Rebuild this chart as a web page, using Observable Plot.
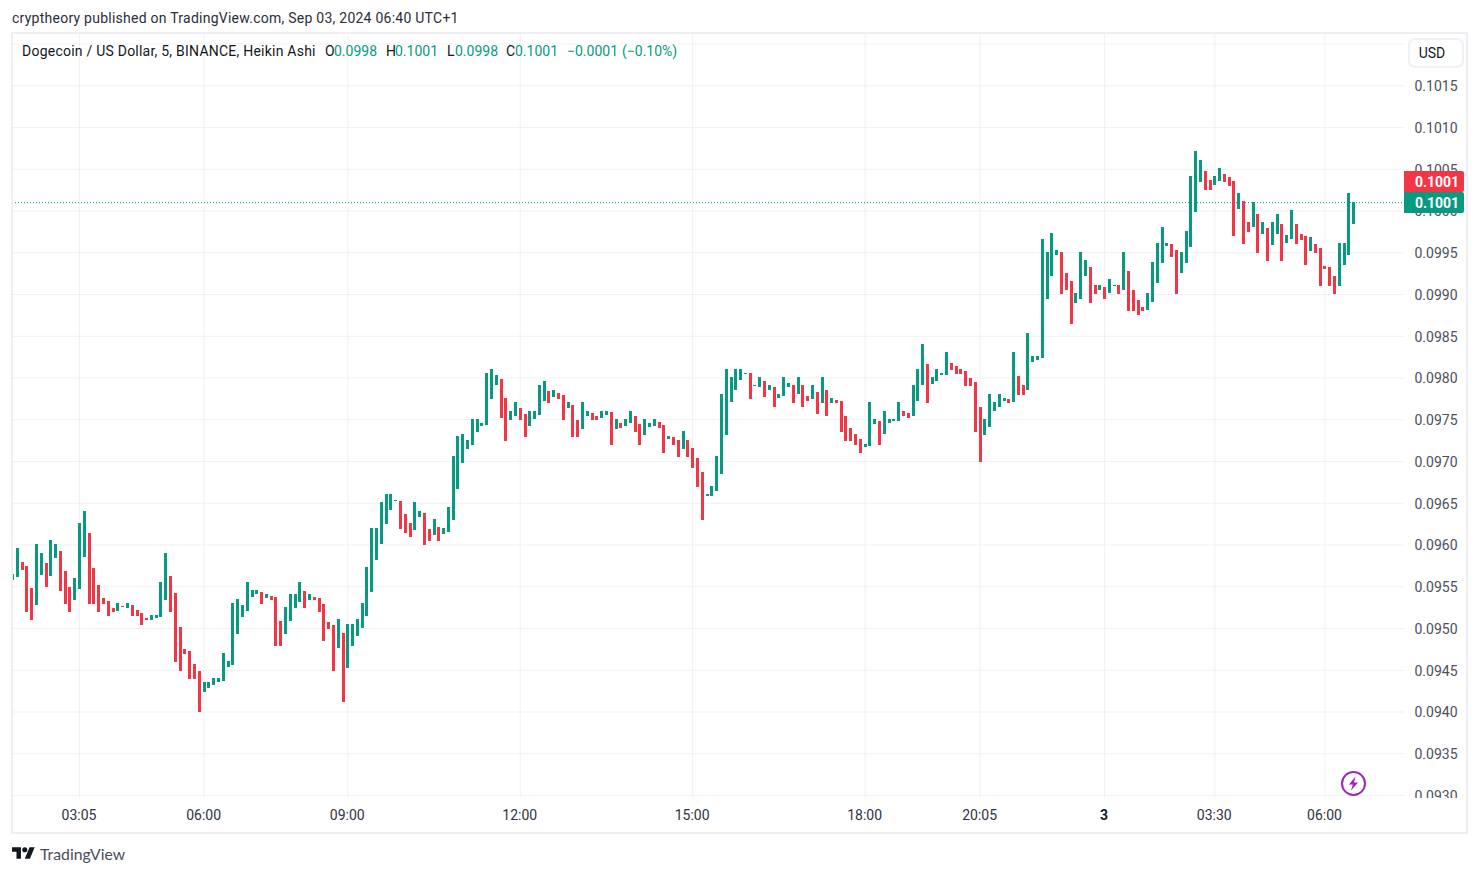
<!DOCTYPE html>
<html>
<head>
<meta charset="utf-8">
<title>Dogecoin / US Dollar</title>
<script src="https://cdn.jsdelivr.net/npm/d3@7"></script>
<script src="https://cdn.jsdelivr.net/npm/@observablehq/plot@0.6"></script>
<style>
html,body{margin:0;padding:0;background:#fff;width:1479px;height:875px;overflow:hidden;font-family:Roboto,sans-serif;font-size:14px;color:#131722}
#chart{position:absolute;left:0;top:0}
.abs{position:absolute;white-space:pre;line-height:20px}
#frame{position:absolute;left:11px;top:32px;width:1453px;height:798px;border:2px solid #eeeef3;pointer-events:none}
#cover{position:absolute;left:1405px;top:798px;width:61px;height:32px;background:#fff}
.tag{position:absolute;left:1404px;width:60px;height:21px;line-height:23px;box-sizing:border-box;padding-left:6px;text-align:center;color:#fff;font-weight:700;border-radius:0 2px 2px 0}
#usd{position:absolute;left:1408px;top:38px;width:44px;height:26px;line-height:26px;padding-right:8px;text-align:center;border:2px solid #f0f1f6;border-radius:7px;background:#fff;color:#131722}
</style>
</head>
<body>
<div id="chart"></div>
<div id="frame"></div>
<div id="cover"></div>
<div class="abs" style="left:12px;top:8px;color:#2a2e39;letter-spacing:0.25px">cryptheory published on TradingView.com, Sep 03, 2024 06:40 UTC+1</div>
<div id="legend"></div>
<div id="usd">USD</div>
<div class="tag" style="top:171px;background:#f23645">0.1001</div>
<div class="tag" style="top:192px;background:#089981">0.1001</div>
<svg style="position:absolute;left:1340px;top:770px" width="27" height="27" viewBox="0 0 27 27">
  <circle cx="13.5" cy="13.5" r="11.5" fill="none" stroke="#9c27b0" stroke-width="2"/>
  <path d="M15.5 6.5 L9 14.5 H12.8 L11 20.5 L18 12.5 H14 Z" fill="#9c27b0"/>
</svg>
<svg style="position:absolute;left:12px;top:847px" width="23" height="12" viewBox="0 4 36 18">
  <path d="M14 22H7V11H0V4h14v18zM28 22h-8l7.5-18h8L28 22z" fill="#131722"/><circle cx="20" cy="8" r="4" fill="#131722"/>
</svg>
<div class="abs" style="left:40px;top:844px;font-family:Lato,sans-serif;font-size:15.8px;color:#4a4e59">TradingView</div>
<script>
// Bar values in units of 0.00001 USD
const high = [
9565,9596,9579,9574,9548,9601,9590,9578,9605,9601,
9592,9568,9549,9560,9626,9640,9614,9572,9552,9536,
9532,9524,9530,9526,9530,9528,9522,9518,9512,9516,
9516,9555,9590,9562,9542,9501,9475,9472,9457,9449,
9435,9435,9440,9440,9470,9461,9530,9535,9528,9555,
9546,9546,9543,9541,9538,9537,9508,9525,9541,9541,
9555,9544,9541,9537,9536,9529,9507,9504,9511,9494,
9505,9505,9511,9530,9573,9620,9620,9651,9661,9661,
9653,9652,9637,9626,9651,9640,9638,9619,9631,9621,
9620,9645,9706,9730,9732,9725,9750,9750,9746,9805,
9810,9803,9798,9776,9760,9771,9764,9756,9760,9760,
9791,9796,9784,9785,9781,9779,9771,9767,9749,9771,
9760,9758,9754,9760,9760,9759,9750,9746,9750,9760,
9754,9744,9750,9746,9750,9747,9743,9730,9729,9725,
9736,9725,9716,9704,9687,9661,9670,9706,9780,9810,
9801,9810,9810,9805,9805,9791,9801,9796,9791,9789,
9780,9801,9793,9791,9801,9791,9778,9791,9783,9801,
9785,9775,9773,9772,9754,9740,9732,9726,9720,9771,
9750,9748,9760,9750,9750,9771,9760,9757,9791,9810,
9840,9816,9801,9810,9805,9830,9817,9814,9810,9808,
9799,9795,9765,9750,9780,9771,9780,9775,9774,9830,
9802,9791,9853,9826,9826,9966,9950,9973,9953,9950,
9925,9916,9901,9950,9941,9932,9911,9911,9908,9918,
9911,9911,9950,9928,9905,9893,9884,9901,9938,9961,
9980,9961,9960,9953,9950,9975,10041,10071,10060,10047,
10036,10041,10051,10044,10040,10035,10021,10011,9986,10010,
9996,9986,9979,9986,9996,9984,9971,10001,9984,9972,
9970,9968,9960,9955,9934,9932,9922,9961,9961,10021,
10010];
const low = [
9558,9561,9570,9519,9510,9528,9564,9549,9562,9584,
9544,9529,9519,9534,9547,9585,9529,9529,9519,9529,
9514,9519,9520,9525,9524,9514,9514,9504,9510,9510,
9512,9513,9534,9519,9459,9449,9469,9439,9439,9399,
9423,9428,9432,9435,9437,9453,9456,9493,9513,9520,
9537,9541,9529,9536,9534,9479,9479,9493,9508,9524,
9531,9524,9534,9534,9519,9484,9499,9449,9476,9411,
9452,9479,9490,9500,9514,9543,9581,9601,9625,9641,
9652,9619,9614,9609,9617,9633,9599,9604,9611,9604,
9613,9615,9629,9667,9698,9714,9719,9735,9742,9743,
9774,9791,9752,9724,9749,9754,9749,9729,9742,9750,
9755,9772,9770,9777,9774,9749,9764,9729,9729,9738,
9754,9749,9749,9752,9755,9719,9738,9740,9742,9746,
9735,9719,9731,9741,9742,9740,9710,9726,9719,9705,
9714,9705,9692,9669,9629,9658,9658,9664,9685,9731,
9771,9785,9797,9804,9774,9790,9789,9777,9785,9765,
9775,9778,9789,9770,9780,9765,9772,9774,9756,9770,
9754,9770,9770,9735,9724,9724,9719,9710,9717,9718,
9744,9719,9732,9745,9748,9748,9754,9751,9754,9772,
9791,9770,9792,9796,9803,9803,9809,9804,9804,9790,
9790,9735,9699,9731,9741,9760,9765,9772,9769,9771,
9779,9779,9785,9819,9821,9823,9894,9922,9947,9900,
9905,9864,9889,9894,9922,9889,9900,9905,9894,9901,
9910,9900,9905,9880,9880,9875,9880,9881,9890,9913,
9937,9957,9944,9900,9925,9937,9956,9998,10034,10025,
10025,10031,10035,10034,10029,9969,10002,9960,9974,9980,
9949,9972,9940,9959,9972,9940,9961,9966,9960,9965,
9935,9952,9949,9910,9930,9910,9900,9910,9935,9947,
9984];
const direction = [
"GGRRRGGRGG","RRRGGGRRRR","RRGRGRRRRG","GGGRRRRRRR","GGGGGGGGGG","GGRGRRRGGG","GRGRRRRRGR",
"GGGGGGGGGG","GRRRGGRRGR","GGGGGGGGGG","GGRRGGRRGG","GGRGRRGRRG","GRRGGRGRGG","RRGGGRRGRR",
"GRRRRGGGGG","GGGGRGGRGR","GGGRGRRGRG","RGRRRRRRGG","GRGGGGRRGG","GRGGGGRRRR","RRRGGGGGRG",
"RRGGGGGGGR","RRGGGRRGRG","GRGRRRRGGG","GGRRGGGGGR","RGGRRRGRRG","RGRGGRGGRR","RGRRRRRGGG","G"
].join("");
const timeTicks  = [14, 40, 70, 106, 142, 178, 202, 251, 274];
const timeLabels = ["03:05","06:00","09:00","12:00","15:00","18:00","20:05","03:30","06:00"];
const dayTick = [228];
const dayLabel = ["3"];
const priceTicks = [0.0930,0.0935,0.0940,0.0945,0.0950,0.0955,0.0960,0.0965,0.0970,0.0975,0.0980,0.0985,0.0990,0.0995,0.1000,0.1005,0.1010,0.1015];
const gridPrices = [...priceTicks, 0.1020];
const lastPrice = 0.1001;
const legendItems = [
  ["Dogecoin / US Dollar, 5, BINANCE, Heikin Ashi", 22, "#131722", 0.23],
  ["O", 325, "#131722", 0], ["0.0998", 334, "#089981", 0],
  ["H", 386, "#131722", 0], ["0.1001", 395, "#089981", 0],
  ["L", 447, "#131722", 0], ["0.0998", 455, "#089981", 0],
  ["C", 506, "#131722", 0], ["0.1001", 515, "#089981", 0],
  ["\u22120.0001", 567, "#089981", 0], ["(\u22120.10%)", 622, "#089981", 0]
];

const GREEN = "#089981", RED = "#f23645", GRID = "#f0f1f5", AXIS = "#4c505b";
const bars = high.map((h, i) => ({i, high: h / 1e5, low: low[i] / 1e5, color: direction[i] === "G" ? GREEN : RED}));

const chart = Plot.plot({
  width: 1479, height: 875,
  marginLeft: 12, marginRight: 75, marginTop: 34, marginBottom: 77,
  style: {fontFamily: "Roboto, sans-serif", fontSize: "14px", background: "transparent"},
  x: {domain: [0, 290], range: [12, 1401.1], axis: null},
  y: {domain: [0.0930, 0.1015], range: [795, 85.25], axis: null},
  marks: [
    Plot.gridX(timeTicks.concat(dayTick), {stroke: GRID, strokeOpacity: 1}),
    Plot.gridY(gridPrices, {stroke: GRID, strokeOpacity: 1}),
    Plot.axisY({anchor: "right", ticks: priceTicks, tickSize: 0, tickPadding: 10, label: null,
      tickFormat: d3.format(".4f"), fill: AXIS, dy: 1}),
    Plot.axisX({anchor: "bottom", ticks: timeTicks, tickSize: 0, tickPadding: 12, label: null,
      tickFormat: d => timeLabels[timeTicks.indexOf(d)], fill: "#2f3340", dx: -0.5}),
    Plot.axisX({anchor: "bottom", ticks: dayTick, tickSize: 0, tickPadding: 12, label: null,
      tickFormat: d => dayLabel[dayTick.indexOf(d)], fill: "#131722", fontWeight: "bold", dx: -0.5}),
    Plot.ruleY([lastPrice], {stroke: GREEN, strokeDasharray: "1 2"}),
    Plot.ruleX(bars, {x: "i", y1: "low", y2: "high", stroke: "color", strokeWidth: 3, strokeOpacity: 1,
      shapeRendering: "crispEdges", clip: true})
  ]
});
document.getElementById("chart").appendChild(chart);

const legend = document.getElementById("legend");
for (const [text, left, color, spacing] of legendItems) {
  const s = document.createElement("div");
  s.className = "abs";
  s.style.cssText = `left:${left}px;top:41px;color:${color};letter-spacing:${spacing}px`;
  s.textContent = text;
  legend.appendChild(s);
}
</script>
</body>
</html>
